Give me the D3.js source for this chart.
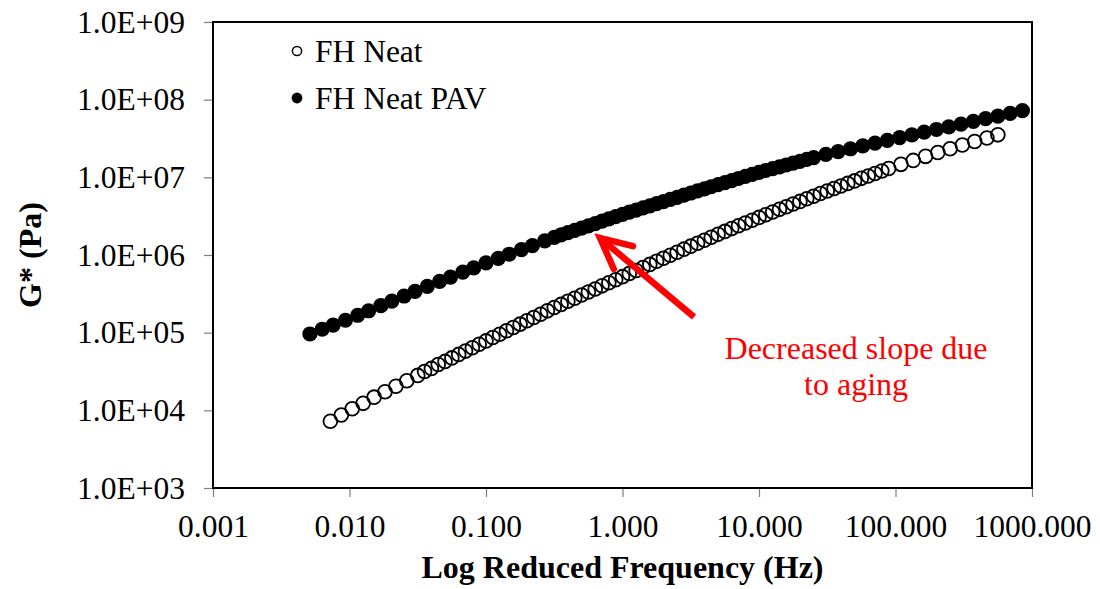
<!DOCTYPE html>
<html>
<head>
<meta charset="utf-8">
<script src="https://cdn.jsdelivr.net/npm/d3@7"></script>
<style>
  html, body { margin: 0; padding: 0; background: #fff; }
  svg { display: block; }
  text { font-family: "Liberation Serif", "Times New Roman", serif; }
</style>
</head>
<body>
<svg id="chart" width="1100" height="589"></svg>
<script>
// Complex shear modulus master curves, unaged vs PAV-aged binder
const openFreq = [
  0.00724, 0.00871, 0.01047, 0.01259, 0.01514, 0.01820, 0.02188, 0.02630, 0.03162,
  0.03548, 0.03981, 0.04467, 0.05012, 0.05623, 0.06310, 0.07079, 0.07943, 0.08913,
  0.1000, 0.1122, 0.1259, 0.1413, 0.1585, 0.1778, 0.1995, 0.2239, 0.2512, 0.2818,
  0.3162, 0.3548, 0.3981, 0.4467, 0.5012, 0.5623, 0.6310, 0.7079, 0.7943, 0.8913,
  1.000, 1.122, 1.259, 1.413, 1.585, 1.778, 1.995, 2.239, 2.512, 2.818,
  3.162, 3.548, 3.981, 4.467, 5.012, 5.623, 6.310, 7.079, 7.943, 8.913,
  10.00, 11.22, 12.59, 14.13, 15.85, 17.78, 19.95, 22.39, 25.12, 28.18,
  31.62, 35.48, 39.81, 44.67, 50.12, 56.23, 63.10, 70.79, 79.43, 89.13,
  109.6, 134.9, 166.0, 204.2, 251.2, 309.0, 380.2, 467.7, 562.3
];
const openG = [
  7244, 8710, 10470, 12300, 14790, 17380, 20420, 23990, 28180,
  31620, 34670, 38900, 42660, 47320, 52480, 57900, 64000, 70790,
  78340, 86500, 95500, 105700, 116700, 128800, 142200, 157000, 173000, 191000,
  210900, 231200, 253500, 278000, 304800, 334200, 365600, 400900, 438500, 480800,
  526000, 576800, 631000, 691800, 756800, 829900, 907800, 993100, 1.086e6, 1.189e6,
  1.300e6, 1.419e6, 1.549e6, 1.690e6, 1.845e6, 2.014e6, 2.188e6, 2.377e6, 2.582e6, 2.805e6,
  3.048e6, 3.304e6, 3.573e6, 3.873e6, 4.188e6, 4.539e6, 4.898e6, 5.297e6, 5.715e6, 6.180e6,
  6.668e6, 7.194e6, 7.745e6, 8.356e6, 8.995e6, 9.705e6, 1.042e7, 1.122e7, 1.205e7, 1.297e7,
  1.469e7, 1.652e7, 1.862e7, 2.084e7, 2.333e7, 2.612e7, 2.897e7, 3.214e7, 3.524e7
];
const pavFreq = [
  0.005129, 0.006310, 0.007586, 0.009333, 0.01148, 0.01380, 0.01698, 0.02042, 0.02512, 0.03020,
  0.03715, 0.04571, 0.05495, 0.06761, 0.08128, 0.1000, 0.1230, 0.1479, 0.1820, 0.2188, 0.2692,
  0.3162, 0.3548, 0.3981, 0.4467, 0.5012, 0.5623, 0.6310, 0.7079, 0.7943, 0.8913,
  1.000, 1.122, 1.259, 1.413, 1.585, 1.778, 1.995, 2.239, 2.512, 2.818,
  3.162, 3.548, 3.981, 4.467, 5.012, 5.623, 6.310, 7.079, 7.943, 8.913,
  10.00, 11.22, 12.59, 14.13, 15.85, 17.78, 19.95, 22.39, 25.12,
  30.90, 38.02, 46.77, 57.54, 70.79, 87.10, 107.2, 131.8, 162.2, 199.5,
  245.5, 302.0, 371.5, 457.1, 562.3, 691.8, 851.1
];
const pavG = [
  96160, 110700, 125300, 144500, 167500, 191400, 222800, 255300, 296500, 339600,
  394500, 457100, 520000, 601200, 683900, 790700, 905700, 1.023e6, 1.175e6, 1.324e6, 1.521e6,
  1.690e6, 1.811e6, 1.936e6, 2.075e6, 2.218e6, 2.377e6, 2.541e6, 2.723e6, 2.911e6, 3.119e6,
  3.334e6, 3.556e6, 3.784e6, 4.036e6, 4.295e6, 4.581e6, 4.875e6, 5.200e6, 5.534e6, 5.902e6,
  6.281e6, 6.699e6, 7.112e6, 7.568e6, 8.035e6, 8.551e6, 9.078e6, 9.661e6, 1.026e7, 1.091e7,
  1.159e7, 1.225e7, 1.291e7, 1.365e7, 1.442e7, 1.524e7, 1.607e7, 1.698e7, 1.795e7,
  1.977e7, 2.148e7, 2.333e7, 2.535e7, 2.754e7, 2.992e7, 3.251e7, 3.516e7, 3.811e7, 4.130e7,
  4.467e7, 4.842e7, 5.248e7, 5.689e7, 6.152e7, 6.668e7, 7.228e7
];
const seriesNames = ["FH Neat", "FH Neat PAV"];
const xTicks = [0.001, 0.01, 0.1, 1, 10, 100, 1000];
const yTicks = [1e3, 1e4, 1e5, 1e6, 1e7, 1e8, 1e9];
const noteLines = ["Decreased slope due", "to aging"];

const svg = d3.select("#chart");
const W = 1100, H = 589;
const m = { left: 213, right: 68, top: 22, bottom: 101 };
const FS_TICK = 31.5, FS = 32;

const x = d3.scaleLog().domain([0.001, 1000]).range([m.left, W - m.right]);
const y = d3.scaleLog().domain([1e3, 1e9]).range([H - m.bottom, m.top]);

svg.append("rect").attr("width", W).attr("height", H).attr("fill", "#fff");

// axes
const yAxis = d3.axisLeft(y).tickValues(yTicks).tickSize(9).tickSizeOuter(0).tickPadding(19)
  .tickFormat(d => "1.0E+" + String(Math.round(Math.log10(d))).padStart(2, "0"));
const xAxis = d3.axisBottom(x).tickValues(xTicks).tickSize(9).tickSizeOuter(0).tickPadding(18)
  .tickFormat(d3.format(".3f"));

const gy = svg.append("g").attr("transform", `translate(${m.left},0)`).call(yAxis);
const gx = svg.append("g").attr("transform", `translate(0,${H - m.bottom})`).call(xAxis);
[gx, gy].forEach(g => {
  g.select(".domain").remove();
  g.selectAll(".tick line").attr("stroke", "#7f7f7f").attr("stroke-width", 1.2);
  g.selectAll(".tick text").attr("font-size", FS_TICK).attr("fill", "#000")
    .style("font-family", '"Liberation Serif", "Times New Roman", serif');
});

// plot frame
svg.append("rect")
  .attr("x", m.left).attr("y", m.top)
  .attr("width", W - m.right - m.left).attr("height", H - m.bottom - m.top)
  .attr("fill", "none").attr("stroke", "#000").attr("stroke-width", 2);

// axis titles
svg.append("text")
  .attr("x", (m.left + W - m.right) / 2).attr("y", 578)
  .attr("text-anchor", "middle").attr("font-size", FS).attr("font-weight", "bold")
  .text("Log Reduced Frequency (Hz)");
svg.append("text")
  .attr("transform", `translate(41,${(m.top + H - m.bottom) / 2}) rotate(-90)`)
  .attr("text-anchor", "middle").attr("font-size", FS).attr("font-weight", "bold")
  .text("G* (Pa)");

// data
const openData = openFreq.map((f, i) => ({ f, g: openG[i] }));
const pavData = pavFreq.map((f, i) => ({ f, g: pavG[i] }));

svg.append("g").selectAll("circle").data(openData).join("circle")
  .attr("cx", d => x(d.f)).attr("cy", d => y(d.g)).attr("r", 6.9)
  .attr("fill", "none").attr("stroke", "#000").attr("stroke-width", 1.8);

svg.append("g").selectAll("circle").data(pavData).join("circle")
  .attr("cx", d => x(d.f)).attr("cy", d => y(d.g)).attr("r", 7.6)
  .attr("fill", "#000");

// legend
const leg = svg.append("g");
leg.append("circle").attr("cx", 297).attr("cy", 51).attr("r", 4.6)
  .attr("fill", "#fff").attr("stroke", "#000").attr("stroke-width", 1.5);
leg.append("text").attr("x", 315).attr("y", 62).attr("font-size", FS_TICK).text(seriesNames[0]);
leg.append("circle").attr("cx", 297).attr("cy", 98).attr("r", 5.4).attr("fill", "#000");
leg.append("text").attr("x", 315).attr("y", 109).attr("font-size", FS_TICK).text(seriesNames[1]);

// annotation arrow pointing at the aged curve
const tip = [x(0.684), y(1.66e6)];
const tail = [x(3.34), y(1.59e5)];
const ang = Math.atan2(tail[1] - tip[1], tail[0] - tip[0]);
const headLen = 34, headHalf = 26 * Math.PI / 180;
const armA = [tip[0] + headLen * Math.cos(ang - headHalf), tip[1] + headLen * Math.sin(ang - headHalf)];
const armB = [tip[0] + headLen * Math.cos(ang + headHalf), tip[1] + headLen * Math.sin(ang + headHalf)];
const red = "#ff0000";
svg.append("line")
  .attr("x1", tail[0]).attr("y1", tail[1]).attr("x2", tip[0] + 3 * Math.cos(ang)).attr("y2", tip[1] + 3 * Math.sin(ang))
  .attr("stroke", red).attr("stroke-width", 6.5).attr("stroke-linecap", "butt");
svg.append("path")
  .attr("d", `M${armA[0]},${armA[1]}L${tip[0]},${tip[1]}L${armB[0]},${armB[1]}`)
  .attr("fill", "none").attr("stroke", red).attr("stroke-width", 6.5)
  .attr("stroke-linejoin", "miter").attr("stroke-linecap", "round");

const note = svg.append("text").attr("text-anchor", "middle").attr("font-size", FS).attr("fill", red);
noteLines.forEach((t, i) => {
  note.append("tspan").attr("x", x(51.4)).attr("y", 359 + i * 36).text(t);
});
</script>
</body>
</html>
